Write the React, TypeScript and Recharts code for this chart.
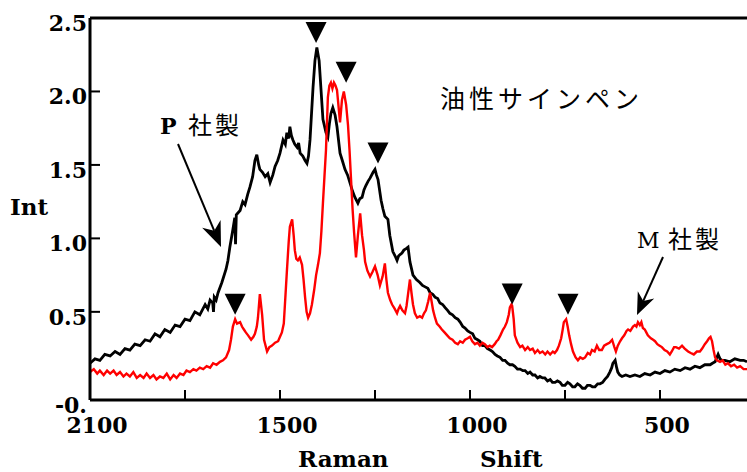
import React from "react";
import { LineChart, Line, XAxis, YAxis, ReferenceLine, ReferenceDot } from "recharts";

// P社製 (black): [Raman shift, intensity]
const pSeries: [number, number][] = [
  [2000, 0.15], [1987, 0.18], [1974, 0.17], [1961, 0.21], [1947, 0.2], [1934, 0.23], [1921, 0.21],
  [1908, 0.25], [1895, 0.24], [1882, 0.28], [1868, 0.27], [1855, 0.31], [1842, 0.3], [1829, 0.35],
  [1816, 0.33], [1803, 0.38], [1789, 0.36], [1776, 0.41], [1763, 0.4], [1750, 0.45], [1737, 0.44],
  [1724, 0.5], [1711, 0.48], [1697, 0.55], [1690, 0.52], [1684, 0.58], [1677, 0.56], [1675, 0.5],
  [1673, 0.6], [1668, 0.58], [1663, 0.63], [1653, 0.7], [1642, 0.79], [1637, 0.85], [1632, 0.94],
  [1624, 1.06], [1619, 1.14], [1617, 0.96], [1615, 1.16], [1605, 1.19], [1598, 1.25], [1592, 1.23],
  [1585, 1.3], [1579, 1.35], [1572, 1.42], [1566, 1.53], [1561, 1.57], [1556, 1.5], [1553, 1.47],
  [1546, 1.45], [1539, 1.42], [1532, 1.44], [1526, 1.38], [1519, 1.43], [1513, 1.49], [1506, 1.53],
  [1500, 1.58], [1492, 1.67], [1486, 1.64], [1482, 1.72], [1477, 1.68], [1474, 1.76], [1470, 1.7],
  [1466, 1.67], [1461, 1.64], [1455, 1.62], [1451, 1.65], [1447, 1.58], [1440, 1.56], [1434, 1.53],
  [1429, 1.51], [1425, 1.56], [1421, 1.67], [1413, 2.03], [1408, 2.21], [1403, 2.3], [1397, 2.21],
  [1392, 2.01], [1387, 1.81], [1379, 1.72], [1374, 1.69], [1370, 1.78], [1366, 1.85], [1361, 1.89],
  [1355, 1.84], [1350, 1.76], [1342, 1.58], [1336, 1.53], [1329, 1.47], [1322, 1.43], [1316, 1.38],
  [1309, 1.32], [1303, 1.28], [1295, 1.24], [1290, 1.27], [1284, 1.28], [1279, 1.33], [1274, 1.36],
  [1268, 1.39], [1263, 1.41], [1255, 1.45], [1250, 1.47], [1246, 1.43], [1242, 1.4], [1234, 1.26],
  [1229, 1.2], [1224, 1.15], [1216, 1.13], [1211, 1.02], [1203, 0.91], [1197, 0.88], [1192, 0.85],
  [1188, 0.88], [1184, 0.89], [1179, 0.9], [1174, 0.92], [1168, 0.93], [1163, 0.94], [1158, 0.84],
  [1150, 0.75], [1141, 0.72], [1132, 0.7], [1125, 0.68], [1118, 0.67], [1111, 0.66], [1105, 0.63],
  [1098, 0.62], [1092, 0.6], [1085, 0.59], [1079, 0.56], [1072, 0.55], [1066, 0.53], [1059, 0.51],
  [1053, 0.49], [1046, 0.48], [1039, 0.46], [1032, 0.45], [1026, 0.43], [1019, 0.4], [1013, 0.39],
  [1006, 0.37], [1000, 0.36], [993, 0.35], [987, 0.32], [980, 0.31], [974, 0.3], [967, 0.27],
  [961, 0.27], [954, 0.25], [947, 0.24], [941, 0.23], [934, 0.21], [928, 0.2], [921, 0.19],
  [914, 0.17], [908, 0.17], [901, 0.15], [895, 0.14], [888, 0.14], [882, 0.13], [875, 0.11],
  [868, 0.11], [861, 0.1], [855, 0.1], [848, 0.08], [842, 0.09], [835, 0.07], [829, 0.07],
  [822, 0.05], [816, 0.06], [809, 0.05], [803, 0.05], [796, 0.03], [789, 0.04], [783, 0.02],
  [776, 0.02], [770, 0.03], [763, 0.02], [757, 0.0], [750, 0.0], [743, 0.02], [737, 0.01],
  [730, -0.01], [724, -0.01], [717, 0.01], [711, 0.0], [704, -0.02], [697, -0.02], [691, 0.0],
  [684, 0.0], [678, -0.01], [671, -0.01], [664, 0.01], [658, 0.01], [651, 0.02], [645, 0.04],
  [638, 0.06], [632, 0.09], [627, 0.12], [624, 0.15], [618, 0.17], [614, 0.12], [611, 0.09],
  [606, 0.07], [600, 0.06], [590, 0.07], [579, 0.06], [566, 0.07], [553, 0.06], [540, 0.08],
  [526, 0.07], [513, 0.09], [500, 0.08], [487, 0.1], [474, 0.09], [461, 0.11], [447, 0.1],
  [434, 0.12], [421, 0.11], [408, 0.13], [395, 0.12], [382, 0.14], [368, 0.14], [362, 0.15],
  [355, 0.16], [347, 0.21], [342, 0.18], [337, 0.17], [329, 0.17], [316, 0.16], [303, 0.18],
  [289, 0.17], [280, 0.17], [271, 0.16],
];

// M社製 (red)
const mSeries: [number, number][] = [
  [2000, 0.09], [1990, 0.11], [1981, 0.08], [1974, 0.1], [1964, 0.07], [1955, 0.1], [1947, 0.08],
  [1938, 0.1], [1930, 0.07], [1921, 0.09], [1912, 0.06], [1904, 0.08], [1895, 0.06], [1886, 0.09],
  [1877, 0.05], [1868, 0.07], [1859, 0.05], [1851, 0.08], [1842, 0.05], [1833, 0.07], [1825, 0.04],
  [1816, 0.06], [1807, 0.05], [1798, 0.08], [1789, 0.04], [1780, 0.07], [1772, 0.05], [1763, 0.08],
  [1754, 0.07], [1746, 0.1], [1737, 0.09], [1728, 0.11], [1720, 0.1], [1711, 0.12], [1702, 0.11],
  [1693, 0.13], [1684, 0.12], [1676, 0.15], [1667, 0.14], [1658, 0.16], [1650, 0.17], [1642, 0.19],
  [1634, 0.24], [1629, 0.31], [1624, 0.4], [1618, 0.45], [1613, 0.42], [1605, 0.43], [1600, 0.4],
  [1595, 0.38], [1590, 0.36], [1584, 0.34], [1576, 0.31], [1570, 0.33], [1566, 0.35], [1561, 0.4],
  [1558, 0.46], [1553, 0.62], [1547, 0.48], [1542, 0.31], [1534, 0.23], [1528, 0.26], [1521, 0.27],
  [1513, 0.29], [1505, 0.3], [1500, 0.33], [1495, 0.36], [1490, 0.42], [1487, 0.55], [1482, 0.77],
  [1477, 0.98], [1474, 1.08], [1468, 1.13], [1464, 1.02], [1461, 0.92], [1457, 0.86], [1453, 0.85],
  [1448, 0.87], [1442, 0.82], [1438, 0.72], [1434, 0.6], [1430, 0.5], [1426, 0.46], [1421, 0.49],
  [1416, 0.55], [1410, 0.65], [1405, 0.75], [1400, 0.82], [1395, 0.9], [1391, 1.05], [1387, 1.24],
  [1383, 1.42], [1379, 1.6], [1374, 1.96], [1370, 2.04], [1366, 2.06], [1362, 2.02], [1358, 2.06],
  [1354, 2.04], [1350, 2.01], [1346, 1.9], [1342, 1.79], [1337, 1.94], [1332, 2.0], [1326, 1.91],
  [1321, 1.77], [1317, 1.6], [1313, 1.4], [1309, 1.2], [1305, 1.04], [1300, 0.87], [1295, 1.02],
  [1289, 1.17], [1284, 1.02], [1279, 0.92], [1276, 0.84], [1270, 0.78], [1263, 0.74], [1257, 0.77],
  [1250, 0.81], [1243, 0.75], [1237, 0.68], [1230, 0.74], [1224, 0.83], [1220, 0.72], [1216, 0.63],
  [1210, 0.58], [1205, 0.55], [1198, 0.52], [1192, 0.49], [1188, 0.52], [1184, 0.54], [1178, 0.51],
  [1171, 0.49], [1167, 0.54], [1163, 0.62], [1158, 0.72], [1154, 0.63], [1150, 0.55], [1145, 0.49],
  [1139, 0.46], [1132, 0.47], [1126, 0.46], [1121, 0.49], [1116, 0.51], [1110, 0.57], [1105, 0.63],
  [1101, 0.57], [1097, 0.51], [1092, 0.46], [1087, 0.42], [1080, 0.4], [1074, 0.38], [1067, 0.36],
  [1060, 0.34], [1053, 0.32], [1046, 0.31], [1039, 0.29], [1032, 0.28], [1026, 0.3], [1019, 0.29],
  [1013, 0.31], [1006, 0.32], [1000, 0.33], [994, 0.3], [987, 0.28], [980, 0.29], [974, 0.27],
  [967, 0.29], [961, 0.28], [954, 0.26], [948, 0.27], [942, 0.26], [935, 0.28], [930, 0.3],
  [926, 0.31], [920, 0.34], [913, 0.38], [908, 0.4], [903, 0.43], [898, 0.48], [895, 0.53],
  [891, 0.55], [889, 0.54], [885, 0.45], [882, 0.34], [875, 0.29], [868, 0.26], [862, 0.27],
  [855, 0.24], [848, 0.26], [842, 0.24], [835, 0.25], [829, 0.22], [822, 0.24], [816, 0.22],
  [809, 0.23], [802, 0.21], [796, 0.23], [789, 0.21], [782, 0.23], [777, 0.22], [771, 0.24],
  [766, 0.27], [760, 0.32], [756, 0.38], [753, 0.43], [747, 0.45], [743, 0.4], [739, 0.34],
  [734, 0.28], [729, 0.23], [722, 0.19], [716, 0.17], [710, 0.19], [703, 0.18], [697, 0.19],
  [690, 0.22], [684, 0.21], [679, 0.24], [672, 0.23], [666, 0.27], [660, 0.24], [653, 0.24],
  [647, 0.27], [640, 0.28], [633, 0.29], [626, 0.31], [620, 0.26], [616, 0.23], [611, 0.27],
  [605, 0.3], [600, 0.32], [594, 0.34], [588, 0.37], [584, 0.38], [578, 0.37], [571, 0.4],
  [566, 0.41], [562, 0.4], [558, 0.43], [553, 0.41], [549, 0.43], [545, 0.39], [540, 0.38],
  [536, 0.36], [532, 0.34], [524, 0.32], [518, 0.31], [513, 0.3], [507, 0.28], [501, 0.27],
  [495, 0.26], [488, 0.24], [481, 0.23], [474, 0.21], [469, 0.23], [463, 0.26], [458, 0.26],
  [450, 0.25], [442, 0.27], [435, 0.25], [426, 0.23], [419, 0.22], [411, 0.21], [403, 0.23],
  [395, 0.23], [389, 0.25], [382, 0.28], [376, 0.3], [371, 0.32], [367, 0.33], [363, 0.3],
  [359, 0.24], [355, 0.19], [350, 0.17], [342, 0.16], [335, 0.17], [328, 0.14], [321, 0.15],
  [313, 0.13], [305, 0.14], [297, 0.12], [289, 0.13], [280, 0.11], [271, 0.11],
];

// peak markers (tip position)
const peakMarks: [number, number][] = [
  [1405, 2.33], [1326, 2.06], [1242, 1.51], [1618, 0.48], [889, 0.55], [742, 0.48],
];

const xTicks = [2000, 1750, 1500, 1250, 1000, 750, 500];
const xTickLabels: Record<number, string> = { 2000: "2100", 1500: "1500", 1000: "1000", 500: "500" };
const yTicks = [-0.1, 0.5, 1.0, 1.5, 2.0, 2.5];
const yTickLabels = ["-0.", "0.5", "1.0", "1.5", "2.0", "2.5"];

const pData = pSeries.map(([s, v]) => ({ s, v }));
const mData = mSeries.map(([s, v]) => ({ s, v }));

const serif = "'DejaVu Serif', serif";
const cjk = "'Noto Sans CJK JP', sans-serif";

const XTick = (props: any) => {
  const { x, y, payload } = props;
  const label = xTickLabels[payload.value] ?? "";
  const edge = payload.value === 2000;
  return (
    <g>
      {!edge && <line x1={x} y1={y} x2={x} y2={y - 10} stroke="#000" strokeWidth={2} />}
      <text x={x + 7} y={y + 33} textAnchor="middle" fontFamily={serif} fontWeight="bold" fontSize={22} fill="#000">
        {label}
      </text>
    </g>
  );
};

const YTick = (props: any) => {
  const { x, y, payload, index } = props;
  const edge = payload.value === -0.1 || payload.value === 2.5;
  return (
    <g>
      {!edge && <line x1={x} y1={y} x2={x + 10} y2={y} stroke="#000" strokeWidth={2} />}
      <text x={x - 3} y={y + 13} textAnchor="end" fontFamily={serif} fontWeight="bold" fontSize={22} fill="#000">
        {yTickLabels[index]}
      </text>
    </g>
  );
};

const Marker = (props: any) => {
  const { cx, cy } = props;
  return <path d={`M${cx - 10.5},${cy - 21} L${cx + 10.5},${cy - 21} L${cx},${cy} Z`} fill="#000" />;
};

function arrow(x1: number, y1: number, x2: number, y2: number, len: number, half: number) {
  const dx = x2 - x1;
  const dy = y2 - y1;
  const d = Math.hypot(dx, dy);
  const ux = dx / d;
  const uy = dy / d;
  const bx = x2 - ux * len;
  const by = y2 - uy * len;
  const nx = x2 - ux * len * 0.7;
  const ny = y2 - uy * len * 0.7;
  return (
    <g>
      <line x1={x1} y1={y1} x2={nx} y2={ny} stroke="#000" strokeWidth={2} />
      <path
        d={`M${x2},${y2} L${bx - uy * half},${by + ux * half} L${nx},${ny} L${bx + uy * half},${by - ux * half} Z`}
        fill="#000"
      />
    </g>
  );
}

export default function App() {
  return (
    <div style={{ position: "absolute", left: 0, top: 0, width: 747, height: 472, background: "#fff" }}>
      <LineChart width={747} height={472} margin={{ top: 18, right: 0, left: 0, bottom: 0 }}>
        <XAxis
          type="number"
          dataKey="s"
          domain={[271, 2000]}
          reversed
          allowDataOverflow
          ticks={xTicks}
          interval={0}
          height={72}
          tickSize={0}
          tickMargin={0}
          tickLine={false}
          axisLine={{ stroke: "#000", strokeWidth: 3 }}
          tick={<XTick />}
        />
        <YAxis
          type="number"
          domain={[-0.1, 2.5]}
          allowDataOverflow
          ticks={yTicks}
          interval={0}
          width={90}
          tickSize={0}
          tickMargin={0}
          tickLine={false}
          axisLine={{ stroke: "#000", strokeWidth: 3 }}
          tick={<YTick />}
        />
        <ReferenceLine y={2.5} stroke="#000" strokeWidth={3} />
        <Line data={pData} dataKey="v" stroke="#000" strokeWidth={2.8} dot={false} isAnimationActive={false} />
        <Line data={mData} dataKey="v" stroke="#ff0000" strokeWidth={2.4} dot={false} isAnimationActive={false} />
        {peakMarks.map(([s, v], i) => (
          <ReferenceDot key={i} x={s} y={v} r={0} shape={<Marker />} />
        ))}
      </LineChart>
      <svg width={747} height={472} style={{ position: "absolute", left: 0, top: 0, pointerEvents: "none" }}>
        <text x={10} y={215} fontFamily={serif} fontWeight="bold" fontSize={23} fill="#000">Int</text>
        <text x={298} y={467} fontFamily={serif} fontWeight="bold" fontSize={23} fill="#000">Raman</text>
        <text x={480} y={467} fontFamily={serif} fontWeight="bold" fontSize={23} fill="#000">Shift</text>
        <text x={440} y={108} fontFamily={cjk} fontSize={25} letterSpacing={4} fill="#000">油性サインペン</text>
        <text x={160} y={134} fontFamily={serif} fontWeight="bold" fontSize={22} fill="#000">P</text>
        <text x={188} y={134} fontFamily={cjk} fontSize={24} letterSpacing={3} fill="#000">社製</text>
        <text x={637} y={248} fontFamily={serif} fontSize={22} fill="#000">M</text>
        <text x={668} y={248} fontFamily={cjk} fontSize={24} letterSpacing={3} fill="#000">社製</text>
        {arrow(178, 144, 221, 247, 25, 10)}
        {arrow(663, 257, 637, 315, 22, 9)}
      </svg>
    </div>
  );
}
